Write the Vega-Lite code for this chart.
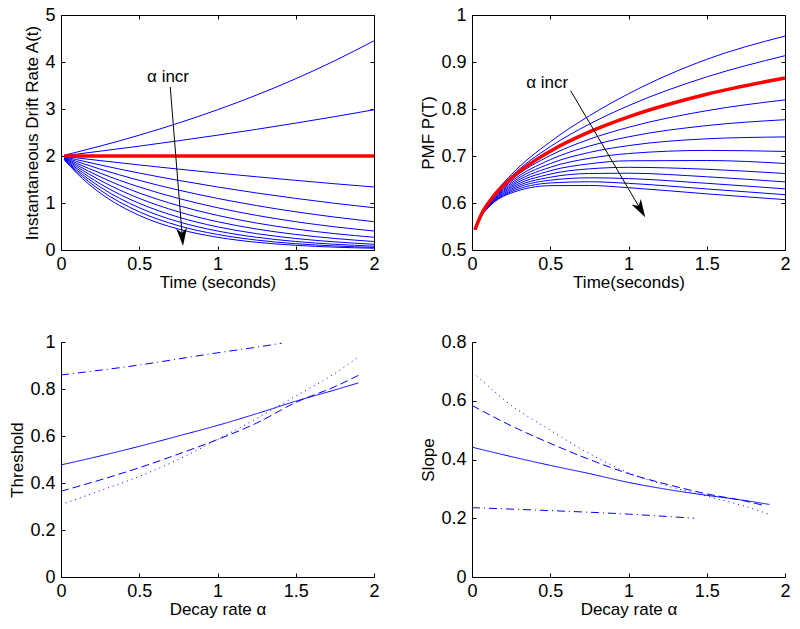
{
  "$schema": "https://vega.github.io/schema/vega-lite/v6.json",
  "background": "white",
  "padding": {"left": 8, "top": 6, "right": 5, "bottom": 5},
  "config": {
    "font": "Liberation Sans",
    "view": {"stroke": null},
    "axis": {
      "labelFont": "Liberation Sans", "labelFontSize": 18, "labelColor": "black",
      "titleFont": "Liberation Sans", "titleFontSize": 17, "titleFontWeight": "normal", "titleColor": "black",
      "domainColor": "black", "tickColor": "black", "grid": false,
      "tickSize": -4, "labelFlush": false, "labelOverlap": false, "labelBound": false, "format": "~g"
    },
    "axisX": {"labelPadding": 9, "titlePadding": 1},
    "axisY": {"labelPadding": 10, "titlePadding": 3}
  },
  "datasets": {
    "drift": [
      {"t":0.02,"a":-0.4,"A":2.016},{"t":0.1,"a":-0.4,"A":2.082},{"t":0.25,"a":-0.4,"A":2.210},{"t":0.5,"a":-0.4,"A":2.443},{"t":0.75,"a":-0.4,"A":2.700},{"t":1.0,"a":-0.4,"A":2.984},{"t":1.25,"a":-0.4,"A":3.297},{"t":1.5,"a":-0.4,"A":3.644},{"t":1.75,"a":-0.4,"A":4.028},{"t":2.0,"a":-0.4,"A":4.451},
      {"t":0.02,"a":-0.2,"A":2.008},{"t":0.1,"a":-0.2,"A":2.040},{"t":0.25,"a":-0.2,"A":2.103},{"t":0.5,"a":-0.2,"A":2.210},{"t":0.75,"a":-0.2,"A":2.324},{"t":1.0,"a":-0.2,"A":2.443},{"t":1.25,"a":-0.2,"A":2.568},{"t":1.5,"a":-0.2,"A":2.700},{"t":1.75,"a":-0.2,"A":2.838},{"t":2.0,"a":-0.2,"A":2.984},
      {"t":0.02,"a":0,"A":2},{"t":0.1,"a":0,"A":2},{"t":0.25,"a":0,"A":2},{"t":0.5,"a":0,"A":2},{"t":0.75,"a":0,"A":2},{"t":1.0,"a":0,"A":2},{"t":1.25,"a":0,"A":2},{"t":1.5,"a":0,"A":2},{"t":1.75,"a":0,"A":2},{"t":2.0,"a":0,"A":2},
      {"t":0.02,"a":0.2,"A":1.992},{"t":0.1,"a":0.2,"A":1.960},{"t":0.25,"a":0.2,"A":1.902},{"t":0.5,"a":0.2,"A":1.810},{"t":0.75,"a":0.2,"A":1.721},{"t":1.0,"a":0.2,"A":1.637},{"t":1.25,"a":0.2,"A":1.558},{"t":1.5,"a":0.2,"A":1.482},{"t":1.75,"a":0.2,"A":1.409},{"t":2.0,"a":0.2,"A":1.341},
      {"t":0.02,"a":0.4,"A":1.984},{"t":0.1,"a":0.4,"A":1.922},{"t":0.25,"a":0.4,"A":1.810},{"t":0.5,"a":0.4,"A":1.637},{"t":0.75,"a":0.4,"A":1.482},{"t":1.0,"a":0.4,"A":1.341},{"t":1.25,"a":0.4,"A":1.213},{"t":1.5,"a":0.4,"A":1.098},{"t":1.75,"a":0.4,"A":0.993},{"t":2.0,"a":0.4,"A":0.899},
      {"t":0.02,"a":0.6,"A":1.976},{"t":0.1,"a":0.6,"A":1.884},{"t":0.25,"a":0.6,"A":1.721},{"t":0.5,"a":0.6,"A":1.482},{"t":0.75,"a":0.6,"A":1.275},{"t":1.0,"a":0.6,"A":1.098},{"t":1.25,"a":0.6,"A":0.945},{"t":1.5,"a":0.6,"A":0.813},{"t":1.75,"a":0.6,"A":0.700},{"t":2.0,"a":0.6,"A":0.602},
      {"t":0.02,"a":0.8,"A":1.968},{"t":0.1,"a":0.8,"A":1.846},{"t":0.25,"a":0.8,"A":1.637},{"t":0.5,"a":0.8,"A":1.341},{"t":0.75,"a":0.8,"A":1.098},{"t":1.0,"a":0.8,"A":0.899},{"t":1.25,"a":0.8,"A":0.736},{"t":1.5,"a":0.8,"A":0.602},{"t":1.75,"a":0.8,"A":0.493},{"t":2.0,"a":0.8,"A":0.404},
      {"t":0.02,"a":1.0,"A":1.960},{"t":0.1,"a":1.0,"A":1.810},{"t":0.25,"a":1.0,"A":1.558},{"t":0.5,"a":1.0,"A":1.213},{"t":0.75,"a":1.0,"A":0.945},{"t":1.0,"a":1.0,"A":0.736},{"t":1.25,"a":1.0,"A":0.573},{"t":1.5,"a":1.0,"A":0.446},{"t":1.75,"a":1.0,"A":0.348},{"t":2.0,"a":1.0,"A":0.271},
      {"t":0.02,"a":1.2,"A":1.952},{"t":0.1,"a":1.2,"A":1.774},{"t":0.25,"a":1.2,"A":1.482},{"t":0.5,"a":1.2,"A":1.098},{"t":0.75,"a":1.2,"A":0.813},{"t":1.0,"a":1.2,"A":0.602},{"t":1.25,"a":1.2,"A":0.446},{"t":1.5,"a":1.2,"A":0.331},{"t":1.75,"a":1.2,"A":0.245},{"t":2.0,"a":1.2,"A":0.181},
      {"t":0.02,"a":1.4,"A":1.945},{"t":0.1,"a":1.4,"A":1.739},{"t":0.25,"a":1.4,"A":1.409},{"t":0.5,"a":1.4,"A":0.993},{"t":0.75,"a":1.4,"A":0.700},{"t":1.0,"a":1.4,"A":0.493},{"t":1.25,"a":1.4,"A":0.348},{"t":1.5,"a":1.4,"A":0.245},{"t":1.75,"a":1.4,"A":0.173},{"t":2.0,"a":1.4,"A":0.122},
      {"t":0.02,"a":1.6,"A":1.937},{"t":0.1,"a":1.6,"A":1.704},{"t":0.25,"a":1.6,"A":1.341},{"t":0.5,"a":1.6,"A":0.899},{"t":0.75,"a":1.6,"A":0.602},{"t":1.0,"a":1.6,"A":0.404},{"t":1.25,"a":1.6,"A":0.271},{"t":1.5,"a":1.6,"A":0.181},{"t":1.75,"a":1.6,"A":0.122},{"t":2.0,"a":1.6,"A":0.082},
      {"t":0.02,"a":1.8,"A":1.929},{"t":0.1,"a":1.8,"A":1.671},{"t":0.25,"a":1.8,"A":1.275},{"t":0.5,"a":1.8,"A":0.813},{"t":0.75,"a":1.8,"A":0.518},{"t":1.0,"a":1.8,"A":0.331},{"t":1.25,"a":1.8,"A":0.211},{"t":1.5,"a":1.8,"A":0.134},{"t":1.75,"a":1.8,"A":0.086},{"t":2.0,"a":1.8,"A":0.055},
      {"t":0.02,"a":2.0,"A":1.922},{"t":0.1,"a":2.0,"A":1.637},{"t":0.25,"a":2.0,"A":1.213},{"t":0.5,"a":2.0,"A":0.736},{"t":0.75,"a":2.0,"A":0.446},{"t":1.0,"a":2.0,"A":0.271},{"t":1.25,"a":2.0,"A":0.164},{"t":1.5,"a":2.0,"A":0.100},{"t":1.75,"a":2.0,"A":0.060},{"t":2.0,"a":2.0,"A":0.037}
    ],
    "pmf": [
      {"t":0.02,"a":-0.4,"P":0.5443},{"t":0.06,"a":-0.4,"P":0.5770},{"t":0.12,"a":-0.4,"P":0.6095},{"t":0.25,"a":-0.4,"P":0.6599},{"t":0.5,"a":-0.4,"P":0.7302},{"t":0.75,"a":-0.4,"P":0.7856},{"t":1.0,"a":-0.4,"P":0.8324},{"t":1.5,"a":-0.4,"P":0.9057},{"t":2.0,"a":-0.4,"P":0.9552},
      {"t":0.02,"a":-0.2,"P":0.5443},{"t":0.06,"a":-0.2,"P":0.5766},{"t":0.12,"a":-0.2,"P":0.6082},{"t":0.25,"a":-0.2,"P":0.6560},{"t":0.5,"a":-0.2,"P":0.7199},{"t":0.75,"a":-0.2,"P":0.7679},{"t":1.0,"a":-0.2,"P":0.8071},{"t":1.5,"a":-0.2,"P":0.8683},{"t":2.0,"a":-0.2,"P":0.9134},
      {"t":0.02,"a":0,"P":0.5441},{"t":0.06,"a":0,"P":0.5761},{"t":0.12,"a":0,"P":0.6070},{"t":0.25,"a":0,"P":0.6524},{"t":0.5,"a":0,"P":0.7102},{"t":0.75,"a":0,"P":0.7512},{"t":1.0,"a":0,"P":0.7833},{"t":1.5,"a":0,"P":0.8314},{"t":2.0,"a":0,"P":0.8660},
      {"t":0.02,"a":0.2,"P":0.5440},{"t":0.06,"a":0.2,"P":0.5757},{"t":0.12,"a":0.2,"P":0.6057},{"t":0.25,"a":0.2,"P":0.6488},{"t":0.5,"a":0.2,"P":0.7010},{"t":0.75,"a":0.2,"P":0.7357},{"t":1.0,"a":0.2,"P":0.7611},{"t":1.5,"a":0.2,"P":0.7964},{"t":2.0,"a":0.2,"P":0.8194},
      {"t":0.02,"a":0.4,"P":0.5439},{"t":0.06,"a":0.4,"P":0.5752},{"t":0.12,"a":0.4,"P":0.6045},{"t":0.25,"a":0.4,"P":0.6453},{"t":0.5,"a":0.4,"P":0.6922},{"t":0.75,"a":0.4,"P":0.7211},{"t":1.0,"a":0.4,"P":0.7408},{"t":1.5,"a":0.4,"P":0.7647},{"t":2.0,"a":0.4,"P":0.7772},
      {"t":0.02,"a":0.6,"P":0.5438},{"t":0.06,"a":0.6,"P":0.5747},{"t":0.12,"a":0.6,"P":0.6032},{"t":0.25,"a":0.6,"P":0.6420},{"t":0.5,"a":0.6,"P":0.6839},{"t":0.75,"a":0.6,"P":0.7076},{"t":1.0,"a":0.6,"P":0.7221},{"t":1.5,"a":0.6,"P":0.7366},{"t":2.0,"a":0.6,"P":0.7406},
      {"t":0.02,"a":0.8,"P":0.5437},{"t":0.06,"a":0.8,"P":0.5743},{"t":0.12,"a":0.8,"P":0.6021},{"t":0.25,"a":0.8,"P":0.6387},{"t":0.5,"a":0.8,"P":0.6760},{"t":0.75,"a":0.8,"P":0.6951},{"t":1.0,"a":0.8,"P":0.7052},{"t":1.5,"a":0.8,"P":0.7119},{"t":2.0,"a":0.8,"P":0.7097},
      {"t":0.02,"a":1.0,"P":0.5436},{"t":0.06,"a":1.0,"P":0.5739},{"t":0.12,"a":1.0,"P":0.6009},{"t":0.25,"a":1.0,"P":0.6356},{"t":0.5,"a":1.0,"P":0.6686},{"t":0.75,"a":1.0,"P":0.6834},{"t":1.0,"a":1.0,"P":0.6898},{"t":1.5,"a":1.0,"P":0.6904},{"t":2.0,"a":1.0,"P":0.6841},
      {"t":0.02,"a":1.2,"P":0.5436},{"t":0.06,"a":1.2,"P":0.5734},{"t":0.12,"a":1.2,"P":0.5998},{"t":0.25,"a":1.2,"P":0.6325},{"t":0.5,"a":1.2,"P":0.6615},{"t":0.75,"a":1.2,"P":0.6727},{"t":1.0,"a":1.2,"P":0.6759},{"t":1.5,"a":1.2,"P":0.6718},{"t":2.0,"a":1.2,"P":0.6627},
      {"t":0.02,"a":1.4,"P":0.5435},{"t":0.06,"a":1.4,"P":0.5730},{"t":0.12,"a":1.4,"P":0.5986},{"t":0.25,"a":1.4,"P":0.6295},{"t":0.5,"a":1.4,"P":0.6548},{"t":0.75,"a":1.4,"P":0.6628},{"t":1.0,"a":1.4,"P":0.6634},{"t":1.5,"a":1.4,"P":0.6558},{"t":2.0,"a":1.4,"P":0.6449},
      {"t":0.02,"a":1.6,"P":0.5434},{"t":0.06,"a":1.6,"P":0.5726},{"t":0.12,"a":1.6,"P":0.5975},{"t":0.25,"a":1.6,"P":0.6266},{"t":0.5,"a":1.6,"P":0.6485},{"t":0.75,"a":1.6,"P":0.6536},{"t":1.0,"a":1.6,"P":0.6520},{"t":1.5,"a":1.6,"P":0.6419},{"t":2.0,"a":1.6,"P":0.6301},
      {"t":0.02,"a":1.8,"P":0.5434},{"t":0.06,"a":1.8,"P":0.5721},{"t":0.12,"a":1.8,"P":0.5964},{"t":0.25,"a":1.8,"P":0.6238},{"t":0.5,"a":1.8,"P":0.6426},{"t":0.75,"a":1.8,"P":0.6452},{"t":1.0,"a":1.8,"P":0.6418},{"t":1.5,"a":1.8,"P":0.6299},{"t":2.0,"a":1.8,"P":0.6177},
      {"t":0.02,"a":2.0,"P":0.5433},{"t":0.06,"a":2.0,"P":0.5717},{"t":0.12,"a":2.0,"P":0.5953},{"t":0.25,"a":2.0,"P":0.6211},{"t":0.5,"a":2.0,"P":0.6369},{"t":0.75,"a":2.0,"P":0.6373},{"t":1.0,"a":2.0,"P":0.6326},{"t":1.5,"a":2.0,"P":0.6194},{"t":2.0,"a":2.0,"P":0.6071}
    ],
    "thr": [
      {"alpha":0,"style":"solid","v":0.477},{"alpha":0.25,"style":"solid","v":0.515},{"alpha":0.5,"style":"solid","v":0.556},{"alpha":0.75,"style":"solid","v":0.600},{"alpha":1.0,"style":"solid","v":0.645},{"alpha":1.25,"style":"solid","v":0.695},{"alpha":1.5,"style":"solid","v":0.748},{"alpha":1.75,"style":"solid","v":0.796},{"alpha":1.9,"style":"solid","v":0.826},
      {"alpha":0,"style":"dashed","v":0.365},{"alpha":0.25,"style":"dashed","v":0.413},{"alpha":0.5,"style":"dashed","v":0.465},{"alpha":0.75,"style":"dashed","v":0.523},{"alpha":1.0,"style":"dashed","v":0.585},{"alpha":1.25,"style":"dashed","v":0.655},{"alpha":1.5,"style":"dashed","v":0.743},{"alpha":1.75,"style":"dashed","v":0.810},{"alpha":1.9,"style":"dashed","v":0.858},
      {"alpha":0.03,"style":"dotted","v":0.315},{"alpha":0.25,"style":"dotted","v":0.367},{"alpha":0.5,"style":"dotted","v":0.428},{"alpha":0.75,"style":"dotted","v":0.500},{"alpha":1.0,"style":"dotted","v":0.585},{"alpha":1.25,"style":"dotted","v":0.674},{"alpha":1.5,"style":"dotted","v":0.770},{"alpha":1.75,"style":"dotted","v":0.866},{"alpha":1.9,"style":"dotted","v":0.936},
      {"alpha":0,"style":"dashdot","v":0.860},{"alpha":0.25,"style":"dashdot","v":0.880},{"alpha":0.5,"style":"dashdot","v":0.902},{"alpha":0.75,"style":"dashdot","v":0.928},{"alpha":1.0,"style":"dashdot","v":0.954},{"alpha":1.25,"style":"dashdot","v":0.978},{"alpha":1.41,"style":"dashdot","v":0.995}
    ],
    "slope": [
      {"alpha":0,"style":"solid","v":0.442},{"alpha":0.25,"style":"solid","v":0.410},{"alpha":0.5,"style":"solid","v":0.380},{"alpha":0.75,"style":"solid","v":0.352},{"alpha":1.0,"style":"solid","v":0.322},{"alpha":1.25,"style":"solid","v":0.298},{"alpha":1.5,"style":"solid","v":0.278},{"alpha":1.75,"style":"solid","v":0.260},{"alpha":1.9,"style":"solid","v":0.247},
      {"alpha":0,"style":"dashed","v":0.584},{"alpha":0.25,"style":"dashed","v":0.515},{"alpha":0.5,"style":"dashed","v":0.455},{"alpha":0.75,"style":"dashed","v":0.400},{"alpha":1.0,"style":"dashed","v":0.352},{"alpha":1.25,"style":"dashed","v":0.315},{"alpha":1.5,"style":"dashed","v":0.283},{"alpha":1.75,"style":"dashed","v":0.258},{"alpha":1.87,"style":"dashed","v":0.243},
      {"alpha":0.03,"style":"dotted","v":0.685},{"alpha":0.25,"style":"dotted","v":0.585},{"alpha":0.5,"style":"dotted","v":0.500},{"alpha":0.75,"style":"dotted","v":0.420},{"alpha":1.0,"style":"dotted","v":0.355},{"alpha":1.25,"style":"dotted","v":0.310},{"alpha":1.5,"style":"dotted","v":0.275},{"alpha":1.75,"style":"dotted","v":0.240},{"alpha":1.9,"style":"dotted","v":0.213},
      {"alpha":0,"style":"dashdot","v":0.236},{"alpha":0.5,"style":"dashdot","v":0.226},{"alpha":1.0,"style":"dashdot","v":0.214},{"alpha":1.42,"style":"dashdot","v":0.200}
    ],
    "ann_tl": [{"x":0.698,"y":3.47,"x2":0.775,"y2":0.277,"label":"α incr","tx":0.55,"ty":3.68}],
    "ann_tr": [{"x":0.630,"y":0.839,"x2":1.078,"y2":0.586,"label":"α incr","tx":0.346,"ty":0.856}]
  },
  "columns": 2,
  "spacing": {"row": 92, "column": 98},
  "bounds": "flush",
  "concat": [
    {
      "width": 313, "height": 235,
      "resolve": {"axis": {"x": "independent", "y": "independent"}},
      "layer": [
        {
          "data": {"name": "drift"},
          "transform": [{"filter": "datum.a != 0"}],
          "mark": {"type": "line", "color": "#0000ff", "strokeWidth": 1, "interpolate": "monotone"},
          "encoding": {
            "x": {"field": "t", "type": "quantitative", "scale": {"domain": [0, 2], "nice": false, "zero": false}, "axis": {"values": [0, 0.5, 1, 1.5, 2], "title": "Time (seconds)"}},
            "y": {"field": "A", "type": "quantitative", "scale": {"domain": [0, 5], "nice": false, "zero": false}, "axis": {"values": [0, 1, 2, 3, 4, 5], "title": "Instantaneous Drift Rate A(t)"}},
            "detail": {"field": "a", "type": "nominal"}
          }
        },
        {
          "data": {"name": "drift"},
          "transform": [{"filter": "datum.a == 0"}],
          "mark": {"type": "line", "color": "#ff0000", "strokeWidth": 3.5},
          "encoding": {
            "x": {"field": "t", "type": "quantitative", "scale": {"domain": [0, 2], "nice": false, "zero": false}, "axis": {"orient": "top", "values": [0, 0.5, 1, 1.5, 2], "labels": false, "title": null}},
            "y": {"field": "A", "type": "quantitative", "scale": {"domain": [0, 5], "nice": false, "zero": false}, "axis": {"orient": "right", "values": [0, 1, 2, 3, 4, 5], "labels": false, "title": null}}
          }
        },
        {
          "data": {"name": "ann_tl"},
          "mark": {"type": "rule", "color": "black", "strokeWidth": 1},
          "encoding": {
            "x": {"field": "x", "type": "quantitative", "axis": null, "scale": {"domain": [0, 2], "nice": false, "zero": false}},
            "y": {"field": "y", "type": "quantitative", "axis": null, "scale": {"domain": [0, 5], "nice": false, "zero": false}},
            "x2": {"field": "x2"}, "y2": {"field": "y2"}
          }
        },
        {
          "data": {"name": "ann_tl"},
          "mark": {"type": "point", "shape": "M0,1L-0.6,-1L0,-0.45L0.6,-1Z", "size": 324, "filled": true, "color": "black", "opacity": 1, "angle": -4.6},
          "encoding": {
            "x": {"field": "x2", "type": "quantitative", "axis": null, "scale": {"domain": [0, 2], "nice": false, "zero": false}},
            "y": {"field": "y2", "type": "quantitative", "axis": null, "scale": {"domain": [0, 5], "nice": false, "zero": false}}
          }
        },
        {
          "data": {"name": "ann_tl"},
          "mark": {"type": "text", "align": "left", "baseline": "middle", "font": "Liberation Sans", "fontSize": 17, "color": "black"},
          "encoding": {
            "x": {"field": "tx", "type": "quantitative", "axis": null, "scale": {"domain": [0, 2], "nice": false, "zero": false}},
            "y": {"field": "ty", "type": "quantitative", "axis": null, "scale": {"domain": [0, 5], "nice": false, "zero": false}},
            "text": {"field": "label"}
          }
        }
      ]
    },
    {
      "width": 313, "height": 235,
      "resolve": {"axis": {"x": "independent", "y": "independent"}},
      "layer": [
        {
          "data": {"name": "pmf"},
          "transform": [{"filter": "datum.a != 0"}],
          "mark": {"type": "line", "color": "#0000ff", "strokeWidth": 1, "interpolate": "monotone"},
          "encoding": {
            "x": {"field": "t", "type": "quantitative", "scale": {"domain": [0, 2], "nice": false, "zero": false}, "axis": {"values": [0, 0.5, 1, 1.5, 2], "title": "Time(seconds)"}},
            "y": {"field": "P", "type": "quantitative", "scale": {"domain": [0.5, 1], "nice": false, "zero": false}, "axis": {"values": [0.5, 0.6, 0.7, 0.8, 0.9, 1], "title": "PMF P(T)"}},
            "detail": {"field": "a", "type": "nominal"}
          }
        },
        {
          "data": {"name": "pmf"},
          "transform": [{"filter": "datum.a == 0"}],
          "mark": {"type": "line", "color": "#ff0000", "strokeWidth": 3.5, "interpolate": "monotone"},
          "encoding": {
            "x": {"field": "t", "type": "quantitative", "scale": {"domain": [0, 2], "nice": false, "zero": false}, "axis": {"orient": "top", "values": [0, 0.5, 1, 1.5, 2], "labels": false, "title": null}},
            "y": {"field": "P", "type": "quantitative", "scale": {"domain": [0.5, 1], "nice": false, "zero": false}, "axis": {"orient": "right", "values": [0.5, 0.6, 0.7, 0.8, 0.9, 1], "labels": false, "title": null}}
          }
        },
        {
          "data": {"name": "ann_tr"},
          "mark": {"type": "rule", "color": "black", "strokeWidth": 1},
          "encoding": {
            "x": {"field": "x", "type": "quantitative", "axis": null, "scale": {"domain": [0, 2], "nice": false, "zero": false}},
            "y": {"field": "y", "type": "quantitative", "axis": null, "scale": {"domain": [0.5, 1], "nice": false, "zero": false}},
            "x2": {"field": "x2"}, "y2": {"field": "y2"}
          }
        },
        {
          "data": {"name": "ann_tr"},
          "mark": {"type": "point", "shape": "M0,1L-0.6,-1L0,-0.45L0.6,-1Z", "size": 324, "filled": true, "color": "black", "opacity": 1, "angle": -30.4},
          "encoding": {
            "x": {"field": "x2", "type": "quantitative", "axis": null, "scale": {"domain": [0, 2], "nice": false, "zero": false}},
            "y": {"field": "y2", "type": "quantitative", "axis": null, "scale": {"domain": [0.5, 1], "nice": false, "zero": false}}
          }
        },
        {
          "data": {"name": "ann_tr"},
          "mark": {"type": "text", "align": "left", "baseline": "middle", "font": "Liberation Sans", "fontSize": 17, "color": "black"},
          "encoding": {
            "x": {"field": "tx", "type": "quantitative", "axis": null, "scale": {"domain": [0, 2], "nice": false, "zero": false}},
            "y": {"field": "ty", "type": "quantitative", "axis": null, "scale": {"domain": [0.5, 1], "nice": false, "zero": false}},
            "text": {"field": "label"}
          }
        }
      ]
    },
    {
      "width": 313, "height": 235,
      "data": {"name": "thr"},
      "mark": {"type": "line", "color": "#0000ff", "strokeWidth": 1, "interpolate": "monotone"},
      "encoding": {
        "x": {"field": "alpha", "type": "quantitative", "scale": {"domain": [0, 2], "nice": false, "zero": false}, "axis": {"values": [0, 0.5, 1, 1.5, 2], "title": "Decay rate α"}},
        "y": {"field": "v", "type": "quantitative", "scale": {"domain": [0, 1], "nice": false, "zero": false}, "axis": {"values": [0, 0.2, 0.4, 0.6, 0.8, 1], "title": "Threshold"}},
        "strokeDash": {"field": "style", "type": "nominal", "scale": {"domain": ["solid", "dashed", "dotted", "dashdot"], "range": [[1, 0], [8, 4], [1, 4], [8, 4, 1, 4]]}, "legend": null}
      }
    },
    {
      "width": 313, "height": 235,
      "data": {"name": "slope"},
      "mark": {"type": "line", "color": "#0000ff", "strokeWidth": 1, "interpolate": "monotone"},
      "encoding": {
        "x": {"field": "alpha", "type": "quantitative", "scale": {"domain": [0, 2], "nice": false, "zero": false}, "axis": {"values": [0, 0.5, 1, 1.5, 2], "title": "Decay rate α"}},
        "y": {"field": "v", "type": "quantitative", "scale": {"domain": [0, 0.8], "nice": false, "zero": false}, "axis": {"values": [0, 0.2, 0.4, 0.6, 0.8], "title": "Slope"}},
        "strokeDash": {"field": "style", "type": "nominal", "scale": {"domain": ["solid", "dashed", "dotted", "dashdot"], "range": [[1, 0], [8, 4], [1, 4], [8, 4, 1, 4]]}, "legend": null}
      }
    }
  ]
}
